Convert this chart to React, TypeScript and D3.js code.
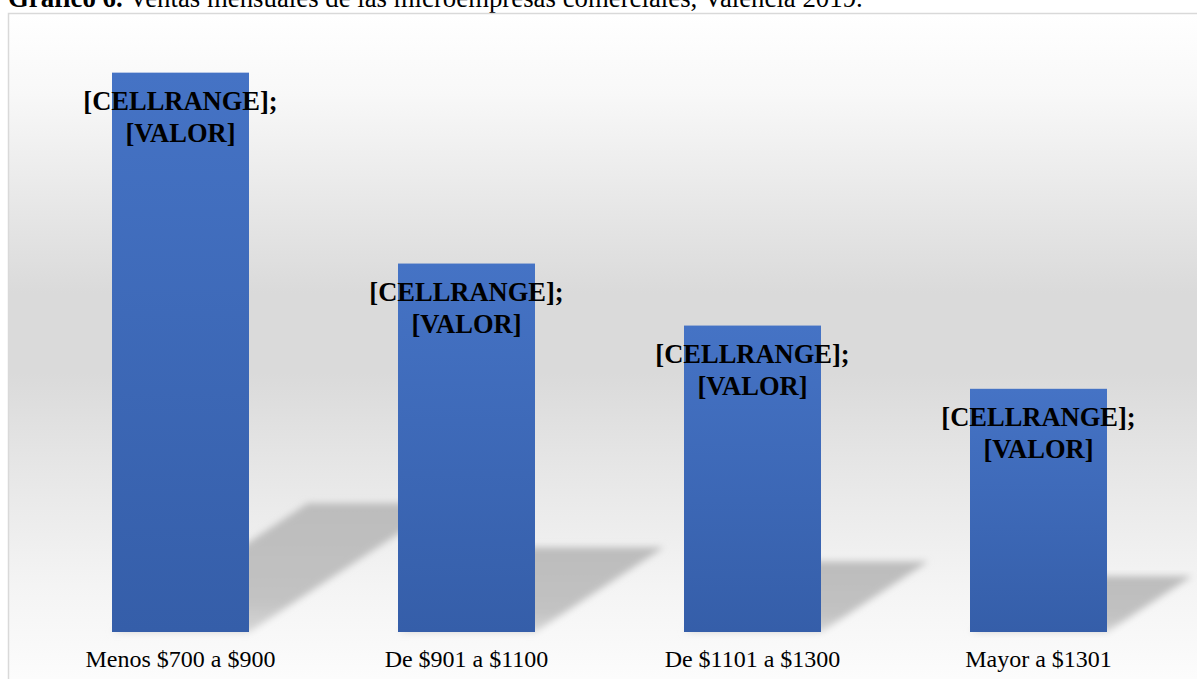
import React from "react";
import * as d3 from "d3";

const categories = ["Menos $700 a $900", "De $901 a $1100", "De $1101 a $1300", "Mayor a $1301"];
const values = [46, 30.3, 25.2, 20];
const labelLines = ["[CELLRANGE];", "[VALOR]"];

const W = 1197;
const H = 679;
const FONT = "'Times New Roman', 'Liberation Serif', serif";

export default function App() {
  const x = d3
    .scaleBand<string>()
    .domain(categories)
    .range([37.5, 1181.5])
    .paddingInner(0.521)
    .paddingOuter(0.2605);

  const y = d3.scaleLinear().domain([0, 50]).range([632, 24]);
  const base = y(0);

  // shadow projected up and right from each bar
  const shadowPath = (c: string, v: number) => {
    const h = base - y(v);
    const x0 = x(c)!;
    const x1 = x0 + x.bandwidth();
    const dx = h * 0.35;
    const dy = h * 0.23;
    return `M${x0},${base} L${x1},${base} L${x1 + dx},${base - dy} L${x0 + dx},${base - dy} Z`;
  };

  return (
    <svg width={W} height={H} style={{ position: "absolute", left: 0, top: 0, display: "block" }}>
      <defs>
        <linearGradient id="bg" gradientUnits="userSpaceOnUse" x1="0" y1="14" x2="0" y2="679">
          <stop offset="0" stopColor="#ffffff" />
          <stop offset="0.12" stopColor="#f8f8f8" />
          <stop offset="0.3" stopColor="#e6e6e6" />
          <stop offset="0.42" stopColor="#dadada" />
          <stop offset="0.54" stopColor="#dadada" />
          <stop offset="0.68" stopColor="#e6e6e6" />
          <stop offset="0.86" stopColor="#f4f4f4" />
          <stop offset="1" stopColor="#fcfcfc" />
        </linearGradient>
        <linearGradient id="bar" x1="0" y1="0" x2="0" y2="1">
          <stop offset="0" stopColor="#4573c5" />
          <stop offset="1" stopColor="#355ea9" />
        </linearGradient>
        <linearGradient id="shadow" x1="0" y1="0" x2="0" y2="1">
          <stop offset="0" stopColor="#bcbcbc" />
          <stop offset="0.75" stopColor="#c2c2c2" />
          <stop offset="1" stopColor="#d6d6d6" />
        </linearGradient>
        <filter id="blur" x="-10%" y="-10%" width="120%" height="120%">
          <feGaussianBlur stdDeviation="3.5" />
        </filter>
        <clipPath id="box">
          <rect x={9} y={14} width={W - 9} height={H - 14} />
        </clipPath>
      </defs>

      <text x={8} y={7} fontFamily={FONT} fontSize={26.8} fill="#000">
        <tspan fontWeight="bold">Gráfico 6.</tspan>
        <tspan> Ventas mensuales de las microempresas comerciales, Valencia 2019.</tspan>
      </text>

      <rect x={8.5} y={13.5} width={W + 10} height={H + 10} fill="url(#bg)" stroke="#d9d9d9" strokeWidth={1.5} />

      <g clipPath="url(#box)">
        {categories.map((c, i) => (
          <path key={"s" + c} d={shadowPath(c, values[i])} fill="url(#shadow)" filter="url(#blur)" />
        ))}
        {categories.map((c, i) => (
          <rect
            key={"b" + c}
            x={x(c)}
            y={y(values[i])}
            width={x.bandwidth()}
            height={base - y(values[i])}
            fill="url(#bar)"
          />
        ))}
      </g>

      {categories.map((c, i) => {
        const cx = x(c)! + x.bandwidth() / 2;
        const top = y(values[i]);
        return (
          <g key={"l" + c} fontFamily={FONT} fontWeight="bold" fontSize={26.5} fill="#000" textAnchor="middle">
            {labelLines.map((t, j) => (
              <text key={t} x={cx} y={top + 37 + j * 32}>
                {t}
              </text>
            ))}
          </g>
        );
      })}

      {categories.map((c) => (
        <text
          key={"c" + c}
          x={x(c)! + x.bandwidth() / 2}
          y={667}
          textAnchor="middle"
          fontFamily={FONT}
          fontSize={24}
          fill="#000"
        >
          {c}
        </text>
      ))}
    </svg>
  );
}
